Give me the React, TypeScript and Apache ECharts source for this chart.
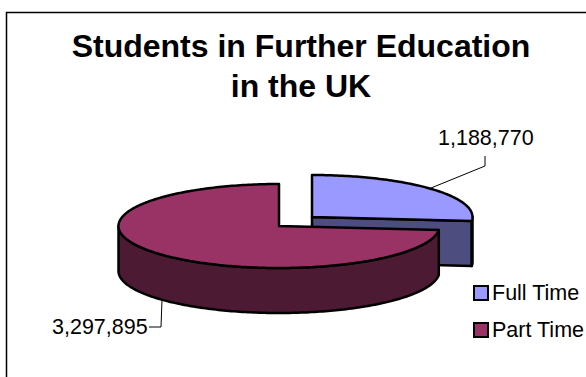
import React, { useEffect, useRef } from "react";
import * as echarts from "echarts";

const categories = ["Full Time", "Part Time"];
const students = [1188770, 3297895];
const topColors = ["#9999ff", "#993366"];
const sideColors = ["#4d4d80", "#4d1a33"];
const titleLines = ["Students in Further Education", "in the UK"];

const FONT = '"Liberation Sans", Arial, sans-serif';
const RX = 160.5;
const RY = 42;
const DEPTH = 45;
const centers = [
  [312, 217],
  [279, 226],
];

const total = students.reduce((a, b) => a + b, 0);
const fmt = (v: number) => v.toLocaleString("en-US");

// Point on the tilted rim; the angle runs clockwise from twelve o'clock.
const rim = (c: number[], a: number, drop = 0) => [
  c[0] + RX * Math.sin(a),
  c[1] - RY * Math.cos(a) + drop,
];

const arc = (c: number[], from: number, to: number, drop = 0) => {
  const steps = Math.max(2, Math.ceil(Math.abs(to - from) / (Math.PI / 180)));
  const pts: number[][] = [];
  for (let i = 0; i <= steps; i++) pts.push(rim(c, from + ((to - from) * i) / steps, drop));
  return pts;
};

const outline = { stroke: "#000", lineWidth: 2.5, lineJoin: "round" as const };

const polygon = (points: number[][], fill: string) => ({
  type: "polygon",
  shape: { points },
  style: { fill, ...outline },
});

const leader = (points: number[][]) => ({
  type: "polyline",
  shape: { points },
  style: { fill: "none", stroke: "#000", lineWidth: 1 },
});

const valueLabel = (x: number, y: number, value: number) => ({
  type: "text",
  style: {
    x,
    y,
    text: fmt(value),
    fill: "#000",
    font: `21.5px ${FONT}`,
    textAlign: "left",
    textVerticalAlign: "middle",
  },
});

// One exploded slice: visible walls first, then the top face.
const renderSlice = (index: number) => (_params: any, api: any) => {
  const value = api.value(0) as number;
  const before = students.slice(0, index).reduce((a, b) => a + b, 0);
  const start = (before / total) * Math.PI * 2;
  const end = start + (value / total) * Math.PI * 2;
  const c = centers[index];
  const top = polygon([c, ...arc(c, start, end)], topColors[index]);
  const side = sideColors[index];
  const children: any[] = [];

  const wallFrom = Math.max(start, Math.PI / 2);
  const wallTo = Math.min(end, (Math.PI * 3) / 2);
  if (index === 0) {
    // The cut face of the first slice looks towards the viewer.
    const corner = rim(c, end);
    children.push(
      polygon([c, corner, [corner[0], corner[1] + DEPTH], [c[0], c[1] + DEPTH]], side)
    );
    children.push(
      polygon([...arc(c, wallFrom, wallTo), ...arc(c, wallTo, wallFrom, DEPTH)], side)
    );
    children.push(
      leader([[431, 188], [485, 166], [485, 156]]),
      valueLabel(438, 138, value)
    );
  } else {
    children.push(
      polygon([...arc(c, wallFrom, wallTo), ...arc(c, wallTo, wallFrom, DEPTH)], side)
    );
    children.push(
      leader([[162, 300], [161, 327], [149, 327]]),
      valueLabel(52, 327, value)
    );
  }
  children.push(top);
  return { type: "group", children };
};

export default function App() {
  const ref = useRef<HTMLDivElement>(null);

  useEffect(() => {
    const chart = echarts.init(ref.current!, undefined, { renderer: "svg" });
    chart.setOption({
      animation: false,
      backgroundColor: "#fff",
      title: {
        text: titleLines.join("\n"),
        left: 296,
        top: 21,
        textAlign: "center",
        textStyle: {
          fontFamily: FONT,
          fontWeight: "bold",
          fontSize: 32,
          lineHeight: 40,
          color: "#000",
        },
      },
      legend: {
        data: categories.map((name, i) => ({
          name,
          icon: "rect",
          itemStyle: { color: topColors[i], borderColor: "#000", borderWidth: 2 },
        })),
        orient: "vertical",
        left: 473,
        top: 282,
        padding: 0,
        itemWidth: 14,
        itemHeight: 14,
        itemGap: 15,
        selectedMode: false,
        textStyle: { fontFamily: FONT, fontSize: 21.5, color: "#000", padding: [0, 0, 0, -1] },
      },
      graphic: [
        {
          type: "rect",
          silent: true,
          shape: { x: 6.5, y: 12.5, width: 700, height: 500 },
          style: { fill: "none", stroke: "#000", lineWidth: 1.5 },
        },
      ],
      series: categories.map((name, i) => ({
        type: "custom",
        name,
        coordinateSystem: "none",
        data: [[students[i]]],
        itemStyle: { color: topColors[i] },
        z: i + 2,
        renderItem: renderSlice(i),
      })),
    });
    return () => chart.dispose();
  }, []);

  return (
    <div
      ref={ref}
      style={{ position: "absolute", left: 0, top: 0, width: 586, height: 377 }}
    />
  );
}
